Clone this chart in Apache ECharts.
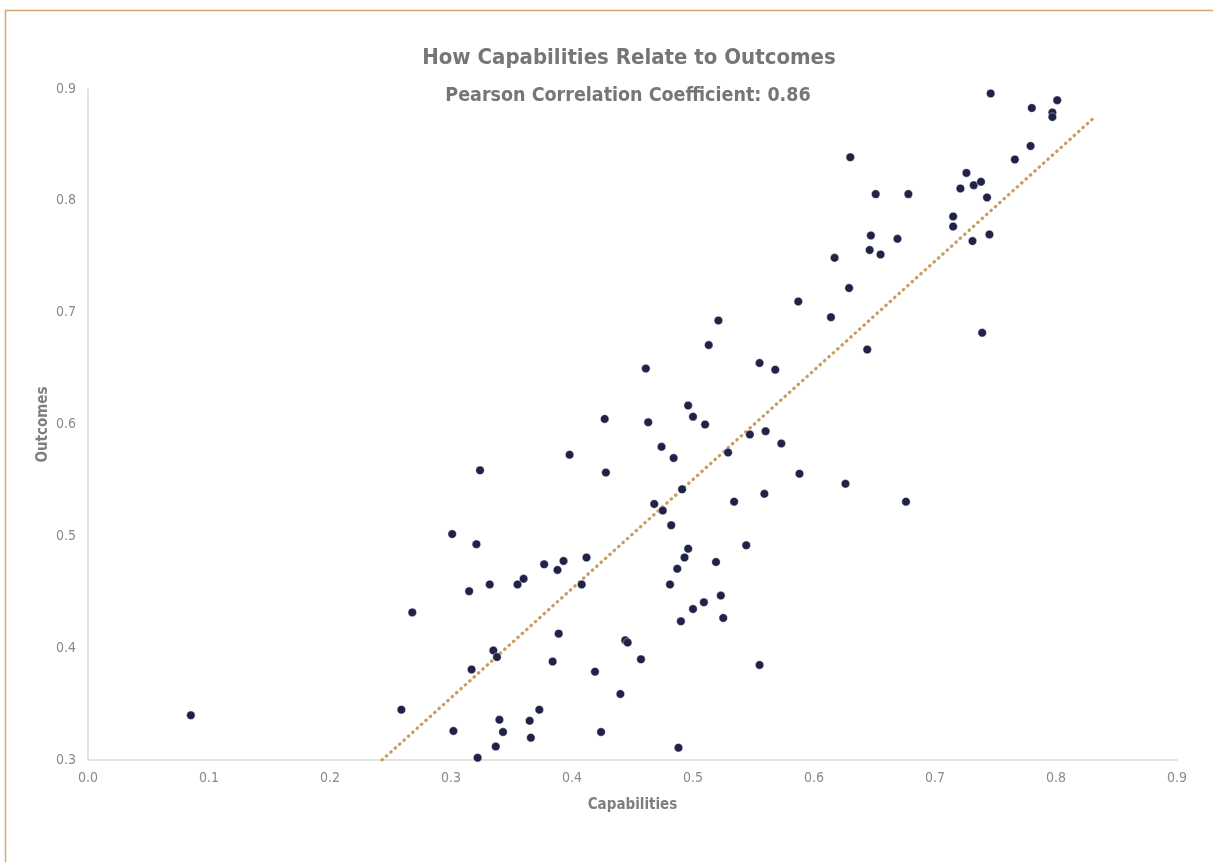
<!DOCTYPE html>
<html>
<head>
<meta charset="utf-8">
<script src="https://cdn.jsdelivr.net/npm/echarts@6/dist/echarts.min.js"></script>
<style>
  html, body { margin: 0; padding: 0; background: #ffffff; }
  #chart { width: 1213px; height: 862px; }
</style>
</head>
<body>
<div id="chart"></div>
<script>
// Capabilities (x) values of each point
const capabilities = [
  0.085, 0.259, 0.268, 0.301, 0.302, 0.315, 0.317, 0.321, 0.324, 0.322,
  0.332, 0.335, 0.338, 0.337, 0.340, 0.343, 0.373, 0.365, 0.366, 0.355,
  0.360, 0.377, 0.388, 0.393, 0.398, 0.389, 0.384, 0.412, 0.408, 0.419,
  0.424, 0.427, 0.428, 0.440, 0.444, 0.446, 0.457, 0.461, 0.463, 0.468,
  0.474, 0.475, 0.484, 0.482, 0.481, 0.487, 0.491, 0.490, 0.493, 0.496,
  0.488, 0.496, 0.500, 0.500, 0.509, 0.510, 0.513, 0.519, 0.521, 0.523,
  0.525, 0.529, 0.534, 0.544, 0.547, 0.555, 0.555, 0.559, 0.560, 0.568,
  0.573, 0.587, 0.588, 0.614, 0.617, 0.626, 0.630, 0.629, 0.644, 0.646,
  0.647, 0.651, 0.655, 0.669, 0.676, 0.678, 0.715, 0.715, 0.721, 0.726,
  0.732, 0.738, 0.739, 0.731, 0.743, 0.745, 0.746, 0.766, 0.779, 0.780,
  0.797, 0.797, 0.801
];
// Outcomes (y) values of each point
const outcomes = [
  0.340, 0.345, 0.432, 0.502, 0.326, 0.451, 0.381, 0.493, 0.559, 0.302,
  0.457, 0.398, 0.392, 0.312, 0.336, 0.325, 0.345, 0.335, 0.320, 0.457,
  0.462, 0.475, 0.470, 0.478, 0.573, 0.413, 0.388, 0.481, 0.457, 0.379,
  0.325, 0.605, 0.557, 0.359, 0.407, 0.405, 0.390, 0.650, 0.602, 0.529,
  0.580, 0.523, 0.570, 0.510, 0.457, 0.471, 0.542, 0.424, 0.481, 0.489,
  0.311, 0.617, 0.607, 0.435, 0.441, 0.600, 0.671, 0.477, 0.693, 0.447,
  0.427, 0.575, 0.531, 0.492, 0.591, 0.655, 0.385, 0.538, 0.594, 0.649,
  0.583, 0.710, 0.556, 0.696, 0.749, 0.547, 0.839, 0.722, 0.667, 0.756,
  0.769, 0.806, 0.752, 0.766, 0.531, 0.806, 0.786, 0.777, 0.811, 0.825,
  0.814, 0.817, 0.682, 0.764, 0.803, 0.770, 0.896, 0.837, 0.849, 0.883,
  0.879, 0.875, 0.890
];
// Linear trendline end points as drawn (x, y)
const trendX = [0.243, 0.830];
const trendY = [0.300, 0.873];
// Tick labels
const xTicks = ['0.0','0.1','0.2','0.3','0.4','0.5','0.6','0.7','0.8','0.9'];
const yTicks = ['0.3','0.4','0.5','0.6','0.7','0.8','0.9'];

const titleText = 'How Capabilities Relate to Outcomes';
const subtitleText = 'Pearson Correlation Coefficient: 0.86';

const points = capabilities.map((c, i) => [c, outcomes[i]]);
const trend = trendX.map((x, i) => [x, trendY[i]]);

const FONT = '"Liberation Sans Narrow", "DejaVu Sans Condensed", "Liberation Sans", sans-serif';

const chart = echarts.init(document.getElementById('chart'), null, { renderer: 'canvas' });
chart.setOption({
  backgroundColor: '#ffffff',
  animation: false,
  title: [
    {
      text: titleText,
      left: 624,
      textAlign: 'center',
      top: 42,
      textStyle: { fontFamily: FONT, fontSize: 22, fontWeight: 'bold', color: '#767676' }
    },
    {
      text: subtitleText,
      left: 623,
      textAlign: 'center',
      top: 81,
      textStyle: { fontFamily: FONT, fontSize: 19.5, fontWeight: 'bold', color: '#767676' }
    }
  ],
  graphic: [
    {
      type: 'polyline',
      silent: true,
      shape: { points: [[5.5, 870], [5.5, 10.5], [1220, 10.5]] },
      style: { stroke: '#d4a86c', lineWidth: 1.5, fill: null }
    }
  ],
  grid: { left: 88, right: 36, top: 89, bottom: 102, containLabel: false },
  xAxis: {
    type: 'value',
    min: 0,
    max: 0.9,
    interval: 0.1,
    name: 'Capabilities',
    nameLocation: 'middle',
    nameGap: 38,
    nameMoveOverlap: false,
    nameTextStyle: { fontFamily: FONT, fontSize: 15, fontWeight: 'bold', color: '#7f7f7f' },
    axisLine: { show: true, lineStyle: { color: '#d9d9d9', width: 1.5 } },
    axisTick: { show: false },
    splitLine: { show: false },
    axisLabel: {
      margin: 11,
      fontFamily: FONT,
      fontSize: 14,
      color: '#8a8a8a',
      formatter: (v) => xTicks[Math.round(v * 10)] ?? v.toFixed(1)
    }
  },
  yAxis: {
    type: 'value',
    min: 0.3,
    max: 0.9,
    interval: 0.1,
    name: 'Outcomes',
    nameLocation: 'middle',
    nameGap: 37,
    nameMoveOverlap: false,
    nameTextStyle: { fontFamily: FONT, fontSize: 15, fontWeight: 'bold', color: '#7f7f7f' },
    axisLine: { show: true, lineStyle: { color: '#d9d9d9', width: 1.5 } },
    axisTick: { show: false },
    splitLine: { show: false },
    axisLabel: {
      margin: 12,
      fontFamily: FONT,
      fontSize: 14,
      color: '#8a8a8a',
      formatter: (v) => yTicks[Math.round(v * 10) - 3] ?? v.toFixed(1)
    }
  },
  series: [
    {
      name: 'Trend',
      type: 'line',
      data: trend,
      symbol: 'none',
      silent: true,
      lineStyle: { color: '#c99e64', width: 3.2, type: [0.5, 5.4], cap: 'round' },
      z: 1
    },
    {
      name: 'Points',
      type: 'scatter',
      data: points,
      symbol: 'circle',
      symbolSize: 8.5,
      itemStyle: { color: '#1e2347', opacity: 1, borderColor: '#ffffff', borderWidth: 0.4 },
      z: 2
    }
  ]
});
</script>
</body>
</html>
